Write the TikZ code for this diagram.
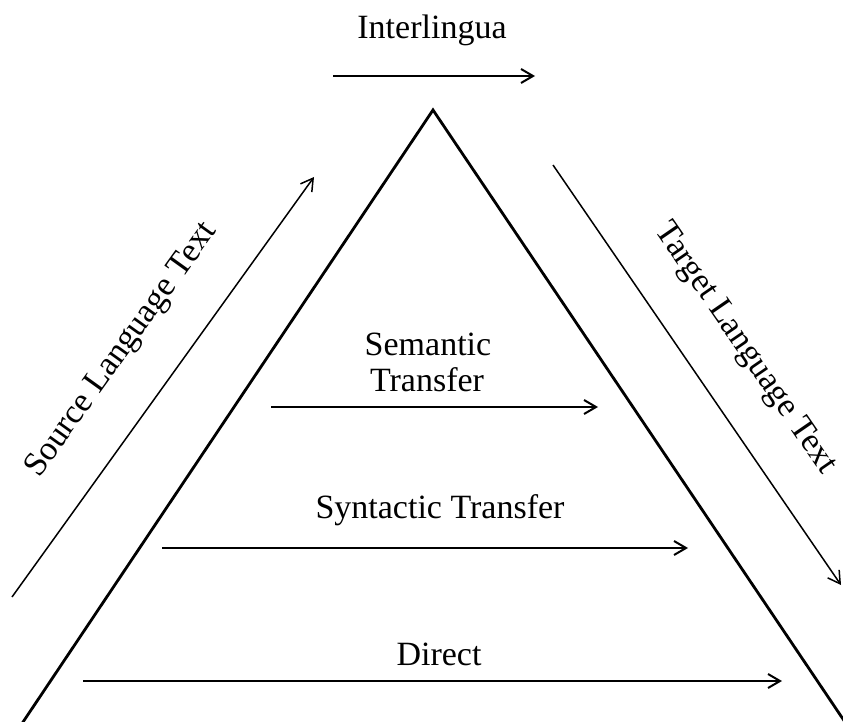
\documentclass[tikz,border=0pt]{standalone}
\usepackage{fontspec}
\setmainfont{Liberation Serif}
\usetikzlibrary{arrows.meta}
\begin{document}
\begin{tikzpicture}[x=1pt,y=-1pt,
  label/.style={font=\fontsize{34}{36}\selectfont, inner sep=0pt},
  flow/.style={line width=2pt, -{Straight Barb[length=12pt,width=14pt,line width=2pt]}},
  side/.style={line width=1.5pt, -{Straight Barb[length=12pt,width=14pt,line width=1.5pt]}},
  tri/.style={line width=2.8pt, line join=miter}]
\useasboundingbox (0,0) rectangle (843,722);
\clip (0,0) rectangle (843,722);

% pyramid
\coordinate (apex) at (433,110);
\coordinate (bl) at (19,728);
\coordinate (br) at (849,728);
\draw[tri] (bl) -- (apex) -- (br);

% interlingua level
\node[label, anchor=base] (inter) at (432,39) {Interlingua};
\coordinate (i1) at (333,76);
\coordinate (i2) at (535,76);
\draw[flow] (i1) -- (i2);

% semantic transfer
\node[label, anchor=base] (sem1) at (428,355) {Semantic};
\node[label, anchor=base] (sem2) at (427,391) {Transfer};
\coordinate (s1) at (271,407);
\coordinate (s2) at (598,407);
\draw[flow] (s1) -- (s2);

% syntactic transfer
\node[label, anchor=base] (syn) at (440,518) {Syntactic Transfer};
\coordinate (y1) at (162,548);
\coordinate (y2) at (688,548);
\draw[flow] (y1) -- (y2);

% direct
\node[label, anchor=base] (dir) at (439,665) {Direct};
\coordinate (d1) at (83,681);
\coordinate (d2) at (782,681);
\draw[flow] (d1) -- (d2);

% source side
\coordinate (src1) at (12,597);
\coordinate (src2) at (314,177);
\draw[side] (src1) -- (src2);
\node[label, rotate=54.3] (src) at (122,350) {Source Language Text};

% target side
\coordinate (tgt1) at (553,165);
\coordinate (tgt2) at (841,585);
\draw[side] (tgt1) -- (tgt2);
\node[label, rotate=-55.5] (tgt) at (745,349) {Target Language Text};
\end{tikzpicture}
\end{document}
